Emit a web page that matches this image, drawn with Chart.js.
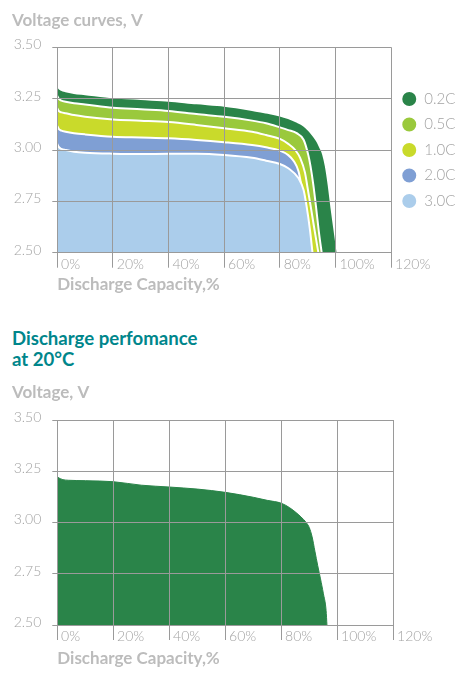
<!DOCTYPE html>
<html lang="en">
<head>
    <meta charset="UTF-8">
    <title>Voltage curves</title>
    <script src="https://cdn.jsdelivr.net/npm/chart.js@4.4.0/dist/chart.umd.min.js"></script>
    <style>
        body {
            margin: 0;
            background: #fff;
        }

        .page {
            position: relative;
            width: 471px;
            height: 684px;
        }

        .page canvas {
            position: absolute;
            left: 0;
        }

        .heading {
            position: absolute;
            left: 12px;
            top: 328px;
            font-family: Lato, "Open Sans", sans-serif;
            font-weight: bold;
            font-size: 18.6px;
            line-height: 21px;
            color: #00868b;
        }
    </style>
</head>
<body>
    <div class="page">
        <canvas id="curves" width="471" height="300" style="top:0"></canvas>
        <div class="heading">Discharge perfomance<br>at 20°C</div>
        <canvas id="discharge" width="471" height="302" style="top:372px"></canvas>
    </div>

    <script>
        // axis ticks
        const capacityTicks = [0, 20, 40, 60, 80, 100, 120];
        const voltageTicks = [2.5, 2.75, 3.0, 3.25, 3.5];

        // voltage curves, one pair of arrays per discharge rate (capacity %, volts)
        const rateLabels = ['0.2C', '0.5C', '1.0C', '2.0C', '3.0C'];

        const cap02 = [0, 0.5, 1.5, 3, 6, 10, 20, 30, 40, 50, 60, 70, 75, 80, 83, 86, 88.5, 90.5, 92, 93.5, 94.5, 95.5, 96.5, 97.5, 98.5, 99.5, 100.2, 100.7];
        const volt02 = [3.32, 3.303, 3.293, 3.286, 3.278, 3.272, 3.257, 3.248, 3.24, 3.227, 3.216, 3.195, 3.182, 3.168, 3.155, 3.138, 3.12, 3.095, 3.07, 3.04, 3.012, 2.98, 2.92, 2.83, 2.72, 2.62, 2.55, 2.50];

        const cap05 = [0, 0.5, 1.5, 3, 6, 10, 20, 30, 40, 50, 60, 70, 75, 80, 83, 86, 88.5, 90.2, 91, 92, 93, 94, 95];
        const volt05 = [3.263, 3.25, 3.24, 3.235, 3.228, 3.222, 3.206, 3.198, 3.19, 3.175, 3.162, 3.143, 3.13, 3.11, 3.097, 3.082, 3.05, 2.975, 2.92, 2.83, 2.72, 2.60, 2.50];

        const cap10 = [0, 0.5, 1.5, 3, 6, 10, 20, 30, 40, 50, 60, 70, 75, 80, 83, 85.5, 87.3, 89, 90, 91, 92.2, 93.8];
        const volt10 = [3.203, 3.19, 3.183, 3.179, 3.17, 3.162, 3.149, 3.143, 3.136, 3.122, 3.106, 3.089, 3.073, 3.054, 3.03, 3.0, 2.96, 2.89, 2.81, 2.73, 2.63, 2.50];

        const cap20 = [0, 0.5, 1.5, 3, 6, 10, 20, 30, 40, 50, 60, 70, 75, 80, 83, 85, 86.7, 88, 89, 90];
        const volt20 = [3.117, 3.103, 3.094, 3.089, 3.082, 3.076, 3.065, 3.061, 3.057, 3.049, 3.038, 3.024, 3.013, 2.997, 2.975, 2.945, 2.895, 2.80, 2.70, 2.50];

        const cap30 = [0, 0.5, 1.5, 3, 6, 10, 20, 30, 40, 50, 60, 70, 75, 80, 83, 86.7, 88.5, 89.6, 90.8, 91.7];
        const volt30 = [3.029, 3.015, 3.005, 3.0, 2.992, 2.987, 2.982, 2.98, 2.982, 2.982, 2.976, 2.962, 2.948, 2.932, 2.911, 2.862, 2.805, 2.724, 2.61, 2.50];

        // discharge performance at 20°C
        const capDischarge = [0, 1, 2, 4, 10, 20, 30, 40, 50, 60, 70, 75, 80, 83, 86, 88, 89, 90, 91, 92, 93, 94, 95, 96, 96.3];
        const voltDischarge = [3.222, 3.214, 3.209, 3.206, 3.204, 3.199, 3.182, 3.173, 3.163, 3.147, 3.123, 3.108, 3.094, 3.072, 3.04, 3.014, 2.998, 2.975, 2.93, 2.86, 2.79, 2.725, 2.655, 2.57, 2.50];
    </script>
    <script>
        const fontFamily = 'Lato, "Open Sans", sans-serif';
        const gridColor = '#9a9a9a';
        const tickColor = '#a3a3a3';
        const titleGray = '#bcbcbc';
        const rateColors = ['#2a8449', '#9ac93c', '#c9da2b', '#7f9fd4', '#abcdeb'];

        const curveCaps = [cap02, cap05, cap10, cap20, cap30];
        const curveVolts = [volt02, volt05, volt10, volt20, volt30];

        // Turn a pair of arrays into {x, y} points
        function toPoints(caps, volts) {
            return caps.map((c, i) => ({ x: c, y: volts[i] }));
        }

        // Same axes for both charts, only the box sizes differ
        function buildScales(xHeight, xTitlePad) {
            return {
                x: {
                    type: 'linear',
                    min: 0,
                    max: 120,
                    afterBuildTicks: (s) => { s.ticks = capacityTicks.map(v => ({ value: v })); },
                    afterFit: (s) => { s.height = xHeight; s.paddingLeft = 0; s.paddingRight = 0; },
                    grid: { color: gridColor, lineWidth: 1, tickLength: 15, z: 1 },
                    border: { color: gridColor, z: 1 },
                    ticks: {
                        align: 'start',
                        padding: -12,
                        maxRotation: 0,
                        autoSkip: false,
                        color: tickColor,
                        font: { family: fontFamily, size: 14, weight: 300 },
                        callback: (v) => ' ' + v + '%'
                    },
                    title: {
                        display: true,
                        text: 'Discharge Capacity,%',
                        align: 'start',
                        color: titleGray,
                        font: { family: fontFamily, size: 17, weight: 'bold', lineHeight: 1.2 },
                        padding: { top: 0, bottom: xTitlePad }
                    }
                },
                y: {
                    min: 2.5,
                    max: 3.5,
                    afterBuildTicks: (s) => { s.ticks = voltageTicks.map(v => ({ value: v })); },
                    afterFit: (s) => { s.width = 45.3; },
                    grid: { color: gridColor, lineWidth: 1, tickLength: 5, z: 1 },
                    border: { color: gridColor, z: 1 },
                    ticks: {
                        padding: 11,
                        color: tickColor,
                        // the empty second line lifts the label a little above its grid line
                        font: { family: fontFamily, size: 14, weight: 300, lineHeight: 0.36 },
                        callback: (v) => [v.toFixed(2), '']
                    }
                }
            };
        }

        function chartTitle(text, bottomPad) {
            return {
                display: true,
                text: text,
                align: 'start',
                color: titleGray,
                font: { family: fontFamily, size: 17, weight: 'bold', lineHeight: 1.2 },
                padding: { top: 10, bottom: bottomPad }
            };
        }

        // Voltage curves for all rates
        new Chart(document.getElementById('curves'), {
            type: 'line',
            data: {
                datasets: rateLabels.map((label, i) => ({
                    label: label,
                    data: toPoints(curveCaps[i], curveVolts[i]),
                    backgroundColor: rateColors[i],
                    borderColor: '#ffffff',
                    borderWidth: 2,
                    fill: 'start',
                    pointRadius: 0,
                    pointHoverRadius: 0,
                    cubicInterpolationMode: 'monotone',
                    order: rateLabels.length - i // slowest rate sits at the back
                }))
            },
            options: {
                responsive: false,
                animation: false,
                events: [],
                layout: { padding: { left: 12, right: 5.7, top: 0, bottom: 0 } },
                scales: buildScales(47.3, 4.8),
                plugins: {
                    title: chartTitle('Voltage curves, V', 16.9),
                    tooltip: { enabled: false },
                    legend: {
                        position: 'right',
                        align: 'center',
                        fullSize: false,
                        labels: {
                            usePointStyle: true,
                            pointStyle: 'circle',
                            boxWidth: 15,
                            boxHeight: 11.3,
                            padding: 10.5,
                            color: tickColor,
                            font: { family: fontFamily, size: 15, weight: 300 },
                            sort: (a, b) => a.datasetIndex - b.datasetIndex
                        }
                    }
                }
            }
        });

        // Discharge performance at 20°C
        new Chart(document.getElementById('discharge'), {
            type: 'line',
            data: {
                datasets: [{
                    label: 'Discharge at 20°C',
                    data: toPoints(capDischarge, voltDischarge),
                    backgroundColor: rateColors[0],
                    borderColor: rateColors[0],
                    borderWidth: 1,
                    fill: 'start',
                    pointRadius: 0,
                    pointHoverRadius: 0,
                    cubicInterpolationMode: 'monotone'
                }]
            },
            options: {
                responsive: false,
                animation: false,
                events: [],
                layout: { padding: { left: 12, right: 77.7, top: 0, bottom: 0 } },
                scales: buildScales(49, 4.8),
                plugins: {
                    title: chartTitle('Voltage, V', 17.6),
                    tooltip: { enabled: false },
                    legend: { display: false }
                }
            }
        });
    </script>
</body>
</html>
